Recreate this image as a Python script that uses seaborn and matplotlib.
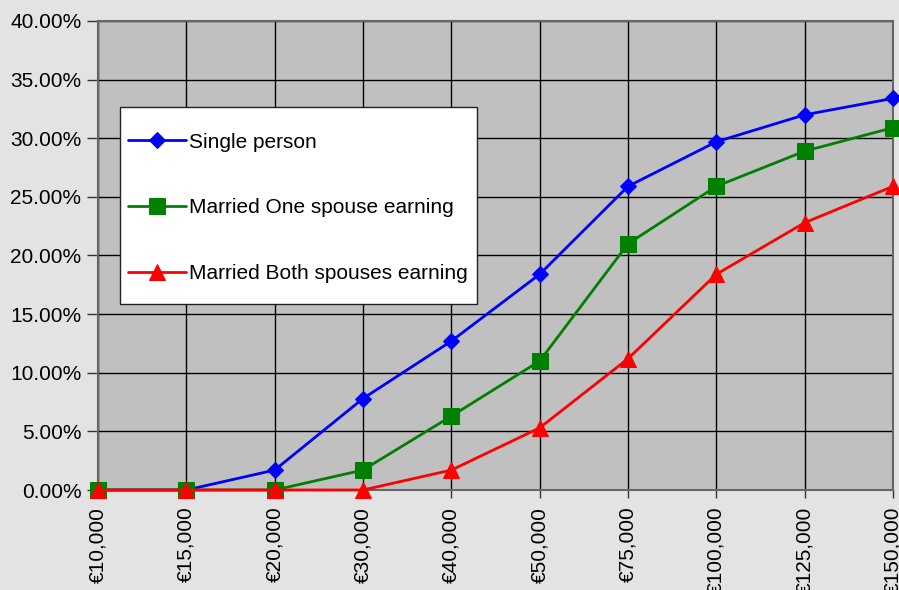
import matplotlib
matplotlib.use("Agg")
import matplotlib.pyplot as plt
import seaborn as sns
import pandas as pd
import numpy as np
from matplotlib.ticker import FuncFormatter, MultipleLocator
from matplotlib.patches import Rectangle

categories = ["€10,000", "€15,000", "€20,000", "€30,000", "€40,000",
              "€50,000", "€75,000", "€100,000", "€125,000", "€150,000"]
single_person = [0.0, 0.0, 1.7, 7.8, 12.7, 18.4, 25.9, 29.7, 32.0, 33.4]
married_one = [0.0, 0.0, 0.0, 1.7, 6.3, 11.0, 21.0, 25.9, 28.9, 30.9]
married_both = [0.0, 0.0, 0.0, 0.0, 1.7, 5.3, 11.2, 18.4, 22.8, 25.9]
series_names = ["Single person", "Married One spouse earning", "Married Both spouses earning"]
series_values = [single_person, married_one, married_both]
colors = ["#0000ff", "#008000", "#ff0000"]
markers = ["D", "s", "^"]
msizes = [8.5, 11, 11]

sns.set_theme(style="white")
plt.rcParams['font.family'] = ['Liberation Sans', 'DejaVu Sans']
plt.rcParams['text.color'] = 'black'
plt.rcParams['xtick.color'] = 'black'
plt.rcParams['ytick.color'] = 'black'

W, H = 899, 590
AX_L, AX_R, AX_T, AX_B = 98, 893, 21, 490
fig = plt.figure(figsize=(W/100, H/100), dpi=100, facecolor="#e3e3e3")
ax = fig.add_axes([AX_L/W, 1-AX_B/H, (AX_R-AX_L)/W, (AX_B-AX_T)/H])
ax.set_facecolor("#c0c0c0")

for name, vals, c, m, ms in zip(series_names, series_values, colors, markers, msizes):
    df = pd.DataFrame({"x": np.arange(len(categories)), "y": vals})
    sns.lineplot(data=df, x="x", y="y", ax=ax, color=c, marker=m, markersize=ms,
                 markeredgecolor=c, linewidth=2, label=name, clip_on=False, zorder=3)

ax.set_xlim(0, len(categories) - 1)
ax.set_ylim(0, 40)
ax.set_xticks(np.arange(len(categories)))
ax.set_xticklabels(categories, rotation=90, fontsize=15, color="black")
ax.yaxis.set_major_locator(MultipleLocator(5))
ax.yaxis.set_major_formatter(FuncFormatter(lambda v, p: f"{v:.2f}%"))
ax.tick_params(axis="y", labelsize=15, length=8, width=1, color="#333333", pad=4, left=True, labelcolor="black")
ax.tick_params(axis="x", length=6, width=1, color="#333333", pad=6, bottom=True)
ax.set_xlabel("")
ax.set_ylabel("")
ax.grid(True, color="black", linewidth=1)
ax.set_axisbelow(True)
for s in ax.spines.values():
    s.set_visible(True)
    s.set_color("#666666")
    s.set_linewidth(1.5)

# legend box (frame) in axes-fraction coordinates
aw, ah = AX_R - AX_L, AX_B - AX_T
box = Rectangle(((120-AX_L)/aw, (AX_B-304)/ah), 357/aw, 197/ah, transform=ax.transAxes,
                facecolor="white", edgecolor="#222222", linewidth=1, zorder=4)
ax.add_patch(box)

leg = ax.legend(loc="upper left", bbox_to_anchor=((128-AX_L)/aw, (AX_B-132.5)/ah), borderaxespad=0,
                fontsize=15, frameon=False, labelspacing=2.25,
                handlelength=2.8, handletextpad=0.12, borderpad=0)
for t in leg.get_texts():
    t.set_color("black")
leg.set_zorder(5)

fig.savefig("out.png", dpi=100, facecolor=fig.get_facecolor())
